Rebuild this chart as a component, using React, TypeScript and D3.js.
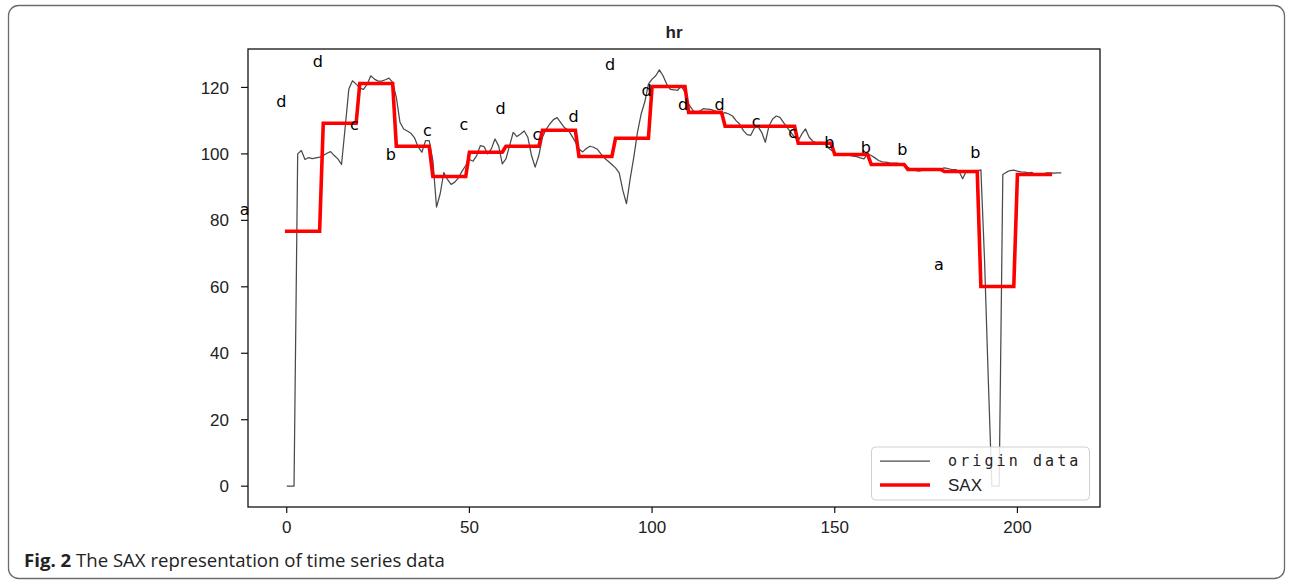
import React from "react";
import * as d3 from "d3";

// ---- data ----
const originData: number[] = [
  0, 0, 0, 100, 101, 98.3, 98.9, 98.6, 98.8, 99,
  99.5, 100.2, 100.7, 99.5, 98.5, 96.8, 108, 119.5, 122, 121,
  119.8, 119.4, 120.9, 123.5, 122.5, 121.9, 121.9, 122.3, 122.8, 121.5,
  117, 109.5, 107.5, 106.9, 106.2, 104.8, 102, 100.5, 104, 104,
  98, 84, 88, 94.4, 92.3, 90.8, 91.5, 92.8, 94.8, 96.5,
  98.3, 97.8, 99.5, 102.5, 102.2, 100, 101.5, 104.5, 102.4, 97,
  98.5, 102.5, 106.5, 105.2, 106, 106.9, 105, 99.5, 96, 99.5,
  105, 107.4, 109, 110.3, 110.9, 109.4, 107.9, 107.2, 105.5, 103.6,
  101.5, 100.6, 101.6, 102.3, 102, 101.4, 100, 98.7, 97.8, 96.8,
  95.8, 94.3, 89, 85, 92.5, 99, 106.5, 112, 115.6, 121,
  122.5, 123.5, 125.3, 123.5, 121, 119.4, 119.3, 119.1, 120.5, 118.5,
  115, 113.4, 112.2, 112.8, 113.6, 113.5, 113.4, 113, 112.5, 112,
  112.4, 112, 111.4, 110, 108.9, 107, 105.8, 105.6, 107.8, 108.2,
  106.5, 103.5, 108.4, 110.5, 111.4, 111, 109.4, 107.9, 106.5, 105,
  104, 106, 107.5, 105, 103.8, 103.4, 103.5, 103.4, 102, 101.2,
  100.3, 99.8, 100, 99.8, 99.6, 99.3, 99.2, 98.8, 98.5, 100,
  99.5, 98.8, 98, 97.6, 97.5, 97.3, 97.2, 97.2, 97, 96.8,
  96, 95.3, 95, 94.8, 95, 95.3, 95.2, 95.3, 95.3, 95.5,
  95.8, 95.6, 95.3, 95.3, 94.8, 92.5, 94.8, 95, 94.8, 94.8,
  95.2, 68, 33, 0, 0, 0, 93.8, 94.5, 95, 95.1,
  94.8, 94.6, 94.5, 94.3, 94.4, 93.5, 93.8, 94, 94.3, 94.3,
  94.2, 94.3, 94.3,
];

const saxValues: number[] = [
  76.7, 109.2, 121.2, 102.3, 93.2, 100.5, 102.3, 107.1, 99.2, 104.7,
  120.3, 112.5, 108.3, 108.3, 103.2, 99.8, 96.8, 95.3, 94.7, 60.1, 93.8,
];
const saxLetters: string[] = [
  "a", "d", "d", "c", "b", "c", "c", "d", "c", "d",
  "d", "d", "d", "d", "c", "c", "b", "b", "b", "a", "b",
];
const segmentLength = 10;

const xTicks: number[] = [0, 50, 100, 150, 200];
const yTicks: number[] = [0, 20, 40, 60, 80, 100, 120];
const titleText = "hr";
const legendLabels: string[] = ["origin data", "SAX"];

// ---- layout ----
const W = 1291;
const H = 583;
const plot = { left: 248, right: 1100, top: 49, bottom: 507 };

export default function App() {
  const n = originData.length;
  const xMax = n - 1;
  const xPad = xMax * 0.05;
  const yMin = d3.min(originData) as number;
  const yMaxV = d3.max(originData) as number;
  const yPad = (yMaxV - yMin) * 0.05;

  const x = d3.scaleLinear().domain([-xPad, xMax + xPad]).range([plot.left, plot.right]);
  const y = d3.scaleLinear().domain([yMin - yPad, yMaxV + yPad]).range([plot.bottom, plot.top]);

  const line = d3
    .line<[number, number]>()
    .x((d) => x(d[0]))
    .y((d) => y(d[1]));

  const originPts: [number, number][] = originData.map((v, i) => [i, v]);
  const saxPts: [number, number][] = [];
  saxValues.forEach((v, s) => {
    for (let k = 0; k < segmentLength; k++) saxPts.push([s * segmentLength + k, v]);
  });

  const tickFont = "'Liberation Sans', Arial, sans-serif";

  return (
    <svg
      width={W}
      height={H}
      style={{ position: "absolute", left: 0, top: 0, background: "#fff" }}
    >
      <rect x={0} y={0} width={W} height={H} fill="#fff" />
      {/* outer caption frame */}
      <rect
        x={8.5}
        y={5.5}
        width={1276}
        height={573}
        rx={10}
        ry={10}
        fill="none"
        stroke="#6b6b6b"
        strokeWidth={1.3}
      />

      {/* title */}
      <text
        x={(plot.left + plot.right) / 2}
        y={38}
        textAnchor="middle"
        fontFamily={tickFont}
        fontSize={17}
        fontWeight={600}
        fill="#222"
      >
        {titleText}
      </text>

      {/* origin data */}
      <path d={line(originPts) || ""} fill="none" stroke="#4a4a4a" strokeWidth={1.25} strokeLinejoin="round" />
      {/* SAX */}
      <path
        d={line(saxPts) || ""}
        fill="none"
        stroke="#ff0000"
        strokeWidth={3.6}
        strokeLinecap="square"
        strokeLinejoin="miter"
      />

      {/* SAX letters */}
      {saxLetters.map((l, s) => (
        <text
          key={s}
          x={x(s * segmentLength - 11.5)}
          y={y(saxValues[s] + 6.6)}
          dy="0.35em"
          textAnchor="middle"
          fontFamily="'DejaVu Sans', sans-serif"
          fontSize={16}
          fill="#000"
        >
          {l}
        </text>
      ))}

      {/* spines */}
      <rect
        x={plot.left}
        y={plot.top}
        width={plot.right - plot.left}
        height={plot.bottom - plot.top}
        fill="none"
        stroke="#111"
        strokeWidth={1.3}
      />

      {/* y ticks */}
      {yTicks.map((t) => (
        <g key={"y" + t}>
          <line x1={plot.left - 7} x2={plot.left} y1={y(t)} y2={y(t)} stroke="#111" strokeWidth={1.2} />
          <text
            x={plot.left - 19}
            y={y(t)}
            dy="0.36em"
            textAnchor="end"
            fontFamily={tickFont}
            fontSize={17}
            fill="#222"
          >
            {t}
          </text>
        </g>
      ))}

      {/* x ticks */}
      {xTicks.map((t) => (
        <g key={"x" + t}>
          <line x1={x(t)} x2={x(t)} y1={plot.bottom} y2={plot.bottom + 6} stroke="#111" strokeWidth={1.2} />
          <text
            x={x(t)}
            y={plot.bottom + 26}
            textAnchor="middle"
            fontFamily={tickFont}
            fontSize={17}
            fill="#222"
          >
            {t}
          </text>
        </g>
      ))}

      {/* legend */}
      <g>
        <rect x={871.5} y={447} width={218} height={53} rx={4} fill="#fff" fillOpacity={0.85} stroke="#d0d0d0" strokeWidth={1} />
        <line x1={880} x2={930} y1={461} y2={461} stroke="#4a4a4a" strokeWidth={1.25} />
        <text
          x={948}
          y={466}
          fontFamily="'DejaVu Sans Mono', monospace"
          fontSize={15}
          letterSpacing={3.1}
          fill="#222"
        >
          {legendLabels[0]}
        </text>
        <line x1={880} x2={930} y1={485} y2={485} stroke="#ff0000" strokeWidth={3.6} />
        <text x={948} y={491} fontFamily={tickFont} fontSize={17} fill="#222">
          {legendLabels[1]}
        </text>
      </g>

      {/* caption */}
      <text x={24} y={567} fontFamily="'Open Sans', sans-serif" fontSize={18.6} fill="#222">
        <tspan fontWeight="bold">Fig. 2</tspan>
        <tspan> The SAX representation of time series data</tspan>
      </text>
    </svg>
  );
}
